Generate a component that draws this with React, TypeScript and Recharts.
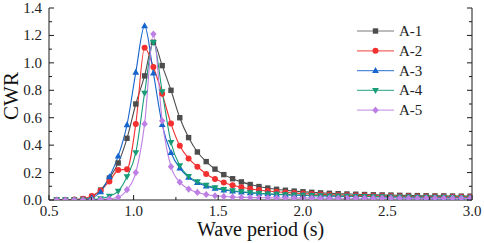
// CWR against wave period for the five A-series cases.
import { Line, LineChart, XAxis, YAxis } from "recharts";

const periods = [
  0.545, 0.597, 0.649, 0.701, 0.753, 0.805, 0.857, 0.909, 0.961, 1.013, 1.065, 1.117,
  1.169, 1.221, 1.273, 1.325, 1.377, 1.429, 1.481, 1.533, 1.585, 1.637, 1.689, 1.741,
  1.793, 1.845, 1.897, 1.949, 2.001, 2.053, 2.105, 2.157, 2.209, 2.261, 2.313, 2.365,
  2.417, 2.469, 2.521, 2.573, 2.625, 2.677, 2.729, 2.781, 2.833, 2.885, 2.937, 2.989,
];

const a1 = [
  0, 0, 0.002, 0.008, 0.025, 0.072, 0.16, 0.27, 0.45, 0.7, 0.905, 1.15,
  0.98, 0.8, 0.6, 0.455, 0.35, 0.28, 0.225, 0.185, 0.155, 0.132, 0.113, 0.098,
  0.087, 0.078, 0.071, 0.065, 0.06, 0.056, 0.052, 0.049, 0.046, 0.044, 0.042, 0.04,
  0.038, 0.037, 0.036, 0.034, 0.033, 0.032, 0.031, 0.03, 0.03, 0.029, 0.028, 0.028,
];
const a2 = [
  0, 0, 0.003, 0.01, 0.03, 0.07, 0.135, 0.218, 0.225, 0.555, 1.11, 0.97,
  0.775, 0.557, 0.395, 0.303, 0.243, 0.19, 0.153, 0.128, 0.107, 0.093, 0.082, 0.073,
  0.066, 0.06, 0.055, 0.051, 0.047, 0.044, 0.041, 0.039, 0.037, 0.035, 0.033, 0.032,
  0.031, 0.03, 0.029, 0.028, 0.027, 0.026, 0.025, 0.025, 0.024, 0.023, 0.023, 0.022,
];
const a3 = [
  0, 0, 0, 0.003, 0.015, 0.06, 0.168, 0.32, 0.548, 0.93, 1.27, 0.925,
  0.55, 0.345, 0.232, 0.165, 0.126, 0.102, 0.085, 0.073, 0.064, 0.057, 0.052, 0.048,
  0.044, 0.041, 0.038, 0.036, 0.034, 0.032, 0.031, 0.029, 0.028, 0.027, 0.026, 0.025,
  0.024, 0.023, 0.023, 0.022, 0.021, 0.021, 0.02, 0.02, 0.019, 0.019, 0.018, 0.018,
];
const a4 = [
  0, 0, 0, 0, 0.003, 0.01, 0.028, 0.065, 0.17, 0.345, 0.78, 1.15,
  0.79, 0.42, 0.25, 0.172, 0.133, 0.108, 0.09, 0.078, 0.068, 0.06, 0.054, 0.049,
  0.045, 0.042, 0.039, 0.037, 0.035, 0.033, 0.031, 0.03, 0.029, 0.028, 0.027, 0.026,
  0.025, 0.024, 0.023, 0.023, 0.022, 0.021, 0.021, 0.02, 0.02, 0.019, 0.019, 0.018,
];
const a5 = [
  0, 0, 0, 0, 0.001, 0.003, 0.008, 0.02, 0.075, 0.2, 0.555, 1.21,
  0.577, 0.243, 0.13, 0.08, 0.055, 0.04, 0.031, 0.026, 0.022, 0.02, 0.018, 0.017,
  0.016, 0.015, 0.015, 0.014, 0.014, 0.014, 0.013, 0.013, 0.013, 0.013, 0.013, 0.013,
  0.013, 0.013, 0.013, 0.012, 0.012, 0.012, 0.012, 0.012, 0.012, 0.012, 0.012, 0.012,
];

const xTicks = [0.5, 0.75, 1.0, 1.25, 1.5, 1.75, 2.0, 2.25, 2.5, 2.75, 3.0];
const yTicks = [0, 0.1, 0.2, 0.3, 0.4, 0.5, 0.6, 0.7, 0.8, 0.9, 1.0, 1.1, 1.2, 1.3, 1.4];

const series = [
  { key: "a1", name: "A-1", color: "#4d4d4d", shape: "square" },
  { key: "a2", name: "A-2", color: "#f23030", shape: "circle" },
  { key: "a3", name: "A-3", color: "#1565cc", shape: "triangle" },
  { key: "a4", name: "A-4", color: "#179c78", shape: "down" },
  { key: "a5", name: "A-5", color: "#bd7fe3", shape: "diamond" },
];

const data = periods.map((t, i) => ({ t, a1: a1[i], a2: a2[i], a3: a3[i], a4: a4[i], a5: a5[i] }));

const FONT = "Liberation Serif, serif";
const AXIS = "#1a1a1a";

function Marker({ cx, cy, shape, color }: { cx: number; cy: number; shape: string; color: string }) {
  if (cx == null || cy == null || isNaN(cx) || isNaN(cy)) return null;
  if (shape === "square") return <rect x={cx - 2.7} y={cy - 2.7} width={5.4} height={5.4} fill={color} />;
  if (shape === "circle") return <circle cx={cx} cy={cy} r={3} fill={color} />;
  if (shape === "triangle")
    return <polygon points={`${cx},${cy - 3.6} ${cx + 3.4},${cy + 2.4} ${cx - 3.4},${cy + 2.4}`} fill={color} />;
  if (shape === "down")
    return <polygon points={`${cx},${cy + 3.6} ${cx + 3.4},${cy - 2.4} ${cx - 3.4},${cy - 2.4}`} fill={color} />;
  return <polygon points={`${cx},${cy - 3.6} ${cx + 3.2},${cy} ${cx},${cy + 3.6} ${cx - 3.2},${cy}`} fill={color} />;
}

const isMajorY = (v: number) => Math.round(v * 10) % 2 === 0;
const isMajorX = (v: number) => Math.round(v * 100) % 50 === 0;

function LeftTick({ x, y, payload }: any) {
  const major = isMajorY(payload.value);
  return (
    <g>
      <line x1={x} x2={x + (major ? 5 : 3)} y1={y} y2={y} stroke={AXIS} />
      {major && (
        <text x={x - 7} y={y + 5} textAnchor="end" fontSize={15} fontFamily={FONT} fill="#222">
          {payload.value.toFixed(1)}
        </text>
      )}
    </g>
  );
}

function RightTick({ x, y, payload }: any) {
  const major = isMajorY(payload.value);
  return <line x1={x} x2={x - (major ? 5 : 3)} y1={y} y2={y} stroke={AXIS} />;
}

function BottomTick({ x, y, payload }: any) {
  const major = isMajorX(payload.value);
  return (
    <g>
      <line x1={x} x2={x} y1={y} y2={y - (major ? 5 : 3)} stroke={AXIS} />
      {major && (
        <text x={x} y={y + 16} textAnchor="middle" fontSize={15} fontFamily={FONT} fill="#222">
          {payload.value.toFixed(1)}
        </text>
      )}
    </g>
  );
}

function TopTick({ x, y, payload }: any) {
  const major = isMajorX(payload.value);
  return <line x1={x} x2={x} y1={y} y2={y + (major ? 5 : 3)} stroke={AXIS} />;
}

function LegendBox() {
  return (
    <svg width={90} height={104} style={{ position: "absolute", left: 357, top: 23 }}>
      {series.map((s, i) => {
        const cy = 8 + i * 19.8;
        return (
          <g key={s.key}>
            <line x1={0} x2={37} y1={cy} y2={cy} stroke={s.color} strokeWidth={1.2} strokeOpacity={0.75} />
            <Marker cx={18.5} cy={cy} shape={s.shape} color={s.color} />
            <text x={42} y={cy + 5} fontSize={15} fontFamily={FONT} fill="#222">
              {s.name}
            </text>
          </g>
        );
      })}
    </svg>
  );
}

export default function App() {
  return (
    <div style={{ position: "absolute", left: 0, top: 0, width: 484, height: 243, background: "#fff" }}>
      <LineChart width={484} height={243} data={data} margin={{ top: 8, right: 0, bottom: 0, left: 0 }}>
        <XAxis
          dataKey="t"
          type="number"
          domain={[0.5, 3]}
          ticks={xTicks}
          allowDataOverflow
          height={43}
          tickSize={0}
          tickMargin={0}
          tickLine={false}
          axisLine={{ stroke: AXIS }}
          tick={<BottomTick />}
          interval={0}
          label={{
            content: ({ viewBox }: any) => (
              <text
                x={viewBox.x + viewBox.width / 2}
                y={viewBox.y + 36}
                textAnchor="middle"
                fontSize={20}
                fontFamily={FONT}
                fill="#111"
              >
                Wave period (s)
              </text>
            ),
          }}
        />
        <XAxis
          xAxisId="top"
          orientation="top"
          dataKey="t"
          type="number"
          domain={[0.5, 3]}
          ticks={xTicks}
          allowDataOverflow
          height={0}
          tickSize={0}
          tickMargin={0}
          tickLine={false}
          axisLine={{ stroke: AXIS }}
          tick={<TopTick />}
          interval={0}
        />
        <YAxis
          type="number"
          domain={[0, 1.4]}
          ticks={yTicks}
          allowDataOverflow
          width={49}
          tickSize={0}
          tickMargin={0}
          tickLine={false}
          axisLine={{ stroke: AXIS }}
          tick={<LeftTick />}
          interval={0}
          label={{
            content: () => (
              <text
                x={18}
                y={96}
                transform="rotate(-90 18 96)"
                textAnchor="middle"
                fontSize={21}
                fontFamily={FONT}
                fill="#111"
              >
                CWR
              </text>
            ),
          }}
        />
        <YAxis
          yAxisId="right"
          orientation="right"
          type="number"
          domain={[0, 1.4]}
          ticks={yTicks}
          allowDataOverflow
          width={12}
          tickSize={0}
          tickMargin={0}
          tickLine={false}
          axisLine={{ stroke: AXIS }}
          tick={<RightTick />}
          interval={0}
        />
        {series.map(s => (
          <Line
            key={s.key}
            dataKey={s.key}
            name={s.name}
            type="monotone"
            stroke={s.color}
            strokeWidth={1.1}
            dot={(p: any) => <Marker key={`${s.key}-${p.index}`} cx={p.cx} cy={p.cy} shape={s.shape} color={s.color} />}
            activeDot={false}
            isAnimationActive={false}
          />
        ))}
      </LineChart>
      <LegendBox />
    </div>
  );
}
